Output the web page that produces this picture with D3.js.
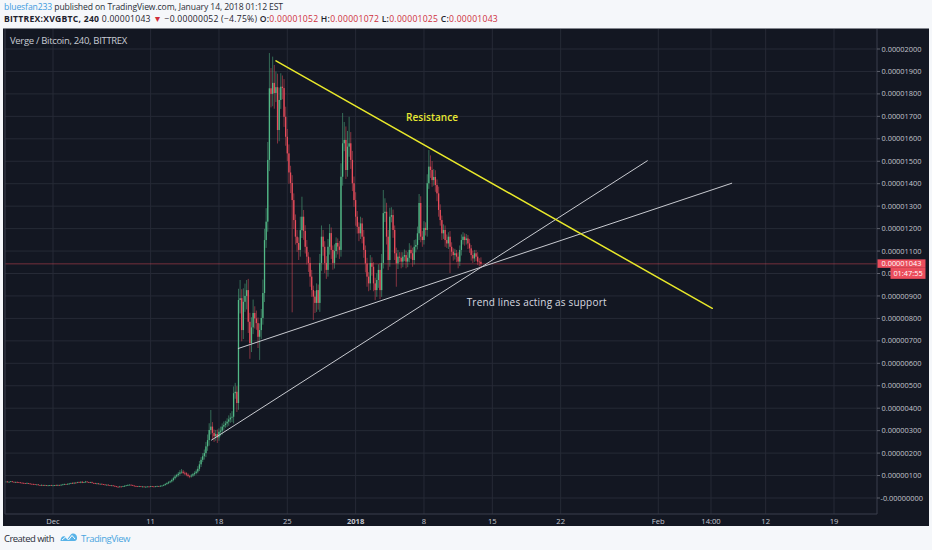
<!DOCTYPE html>
<html><head><meta charset="utf-8">
<script src="https://cdn.jsdelivr.net/npm/d3@7"></script>
<style>html,body{margin:0;padding:0;background:#f5f7fa;}svg{display:block;}</style>
</head><body>
<svg id="c" width="932" height="550"></svg>
<script>
// ---- DATA (prices in satoshi, 1e-8 BTC), 4h candles from 2017-11-26 00:00 UTC ----
const candleStart = Date.UTC(2017,10,26,0,0);
const candleHours = 4;
const closes = [
72,73,71,72,74,72,70,71,70,69,
68,67,66,65,66,64,63,62,61,60,
60,58,57,58,56,57,55,56,57,55,
56,57,56,58,57,59,60,62,61,63,
64,66,65,68,67,70,69,72,68,70,
73,71,69,70,67,66,64,65,62,63,
61,60,58,59,57,55,56,54,52,50,
49,51,50,52,54,56,58,59,57,55,
53,52,51,52,50,51,49,50,51,50,
52,51,50,52,53,52,54,55,58,62,
66,70,74,80,88,96,102,108,114,117,
112,110,104,98,96,100,106,111,118,130,
150,170,186,200,230,258,303,318,290,275,
285,270,295,300,318,325,332,340,350,358,
362,467,473,423,882,890,748,874,900,926,
785,690,760,824,800,779,718,748,802,913,
1149,1231,1506,1825,1800,1849,1804,1830,1639,1773,
1832,1826,1698,1609,1535,1450,1403,1327,1238,1164,
1136,1105,1193,1253,1190,1119,1075,1047,986,926,
897,869,926,869,1047,1164,1119,1047,1016,1119,
1180,1105,1047,1100,1136,1120,1105,1431,1580,1595,
1461,1565,1580,1506,1402,1327,1253,1208,1179,1223,
1164,1105,1045,986,956,1047,1030,956,926,971,
1016,926,1047,1269,1275,1164,1060,1253,1260,1194,
1090,1045,1075,1070,1053,1075,1082,1053,1070,1105,
1090,1060,1119,1127,1179,1314,1164,1149,1203,1194,
1402,1476,1461,1416,1430,1394,1357,1283,1238,1179,
1194,1149,1134,1164,1119,1097,1082,1090,1075,1053,
1105,1149,1164,1149,1156,1134,1112,1082,1067,1090,
1075,1053,1052,1043];
const wickUp = [
2,1,3,2,1,2,1,2,3,1,
2,1,2,1,3,1,2,1,2,1,
1,2,1,3,1,2,1,2,1,2,
2,1,3,2,1,2,3,2,1,2,
3,2,4,2,3,2,3,2,4,2,
3,2,1,2,3,1,2,1,2,1,
2,1,2,1,2,1,2,1,2,1,
2,3,1,2,3,2,3,2,1,2,
1,2,1,2,1,2,1,2,1,2,
2,1,2,1,2,1,3,2,3,4,
4,5,4,6,7,8,6,8,10,12,
8,6,5,6,5,7,6,8,9,12,
15,12,14,16,20,25,30,74,20,15,
18,20,15,18,14,16,12,15,18,20,
25,30,40,25,50,81,40,60,55,45,
50,40,45,60,30,35,25,30,40,60,
50,60,80,157,90,117,80,70,60,55,
60,50,40,45,35,40,30,35,30,25,
30,25,60,89,30,25,30,20,25,30,
20,25,30,25,40,50,30,25,30,35,
40,25,20,30,25,20,25,60,135,80,
60,70,118,50,40,30,35,25,20,30,
25,30,20,25,20,35,25,20,25,30,
25,30,40,103,60,40,30,40,35,25,
20,25,30,20,25,20,25,20,25,30,
20,25,30,25,30,40,30,25,30,25,
40,74,50,40,35,30,25,30,25,20,
25,20,25,20,25,20,15,20,15,20,
20,25,20,15,20,15,20,15,20,15,
15,20,15,20];
const wickDown = [
1,2,1,2,1,2,1,1,2,1,
1,2,1,2,1,2,1,2,1,2,
2,1,2,1,2,1,2,1,2,1,
1,2,1,2,1,2,1,2,1,2,
2,1,2,3,2,1,2,3,2,1,
2,1,2,1,2,1,2,3,2,1,
1,2,1,2,1,2,1,2,1,2,
2,1,2,1,2,1,2,1,2,1,
1,2,1,2,1,2,1,2,1,2,
1,2,1,2,1,2,1,2,2,3,
3,4,4,5,6,6,5,7,8,6,
6,8,7,6,8,5,6,7,6,8,
10,12,10,15,18,20,25,20,30,25,
20,25,15,20,18,15,12,15,18,15,
20,30,25,40,30,60,50,40,45,60,
50,70,40,30,45,30,50,103,40,30,
40,35,45,50,60,55,70,40,60,50,
40,50,45,40,35,50,45,500,40,35,
40,45,30,35,40,30,35,40,45,30,
104,45,40,30,40,35,40,45,40,30,
35,40,30,25,30,35,40,30,40,35,
40,30,45,40,35,30,40,30,35,25,
30,35,40,45,35,30,40,35,45,30,
35,40,30,25,40,35,45,30,25,35,
30,104,25,20,30,25,20,30,25,20,
25,30,20,25,20,30,25,30,20,25,
30,25,35,30,25,30,35,30,25,30,
25,30,20,25,117,20,25,20,25,30,
20,25,20,25,20,25,20,25,20,15,
20,15,20,18];
const lastPrice = 1043;
const yTicks = [0,100,200,300,400,500,600,700,800,900,1000,1100,1200,1300,1400,1500,1600,1700,1800,1900,2000];
const yTickLabels = ["-0.00000000","0.00000100","0.00000200","0.00000300","0.00000400","0.00000500","0.00000600","0.00000700","0.00000800","0.00000900","0.00001000","0.00001100","0.00001200","0.00001300","0.00001400","0.00001500","0.00001600","0.00001700","0.00001800","0.00001900","0.00002000"];
const xTickDates = [Date.UTC(2017,11,1),Date.UTC(2017,11,11),Date.UTC(2017,11,18),Date.UTC(2017,11,25),Date.UTC(2018,0,1),Date.UTC(2018,0,8),Date.UTC(2018,0,15),Date.UTC(2018,0,22),Date.UTC(2018,1,1),Date.UTC(2018,1,6,9,36),Date.UTC(2018,1,12),Date.UTC(2018,1,19)];
const xTickLabels = ["Dec","11","18","25","2018","8","15","22","Feb","14:00","12","19"];
const xTickBold = ["2018"];
// drawn trend lines: [startDate, startPrice, endDate, endPrice]
const resistanceLine = [Date.UTC(2017,11,23,20,14),1947,Date.UTC(2018,1,6,12,45),845];
const supportLineA = [Date.UTC(2017,11,17,5,40),258,Date.UTC(2018,0,30,21,0),1502];
const supportLineB = [Date.UTC(2017,11,19,23,30),666,Date.UTC(2018,1,8,12,30),1402];
const notes = [
  {text:"Resistance", date:Date.UTC(2018,0,6,3,50), price:1697, width:52, color:"#e8e832", weight:600},
  {text:"Trend lines acting as support", date:Date.UTC(2018,0,12,9,0), price:872, width:140, color:"#d8dae0", weight:500}
];

// ---- DRAW ----
const svg = d3.select('#c');
const P = {l:5, r:877, t:29, b:514};
const x = d3.scaleTime().domain([new Date(Date.UTC(2017,11,1)), new Date(Date.UTC(2018,1,19))]).range([53,834]);
const y = d3.scaleLinear().domain([0,2000]).range([498,49]);
const FONT = "'Open Sans', 'Noto Sans', sans-serif";
const UP = "#53b987", DOWN = "#eb4d5c";

svg.append('rect').attr('width',932).attr('height',550).attr('fill','#f5f7fa');
svg.append('rect').attr('x',3).attr('y',28.5).attr('width',926).attr('height',497.5).attr('fill','#131722');

// fit a text to a target width by adjusting letter spacing
function fitText(t, w){
  const n = t.node().getComputedTextLength();
  const chars = t.text().length;
  t.attr('letter-spacing', ((w - n) / chars).toFixed(3));
}

// header line 1
{
  const t = svg.append('text').attr('x',4).attr('y',9.5).attr('font-family',FONT).attr('font-size',8.6);
  t.append('tspan').attr('fill','#3d9be0').text('bluesfan233');
  t.append('tspan').attr('fill','#2a2e39').text(' published on TradingView.com, January 14, 2018 01:12 EST');
  fitText(t, 279);
}
// header line 2
{
  const t = svg.append('text').attr('x',4).attr('y',21.8).attr('font-family',FONT).attr('font-size',8.6);
  const dark = '#1e222d', red = '#cf2f3a';
  const parts = [
    ['BITTREX:XVGBTC, 240',dark,700],[' 0.00001043 ',dark,400],['▼',red,400],[' −0.00000052 (−4.75%) ',dark,400],
    ['O:',dark,600],['0.00001052',red,400],[' H:',dark,600],['0.00001072',red,400],
    [' L:',dark,600],['0.00001025',red,400],[' C:',dark,600],['0.00001043',red,400]
  ];
  parts.forEach(p=>t.append('tspan').attr('fill',p[1]).attr('font-weight',p[2]).text(p[0]));
  fitText(t, 494);
}

// grid
const grid = svg.append('g');
grid.selectAll('line.h').data(yTicks).join('line')
  .attr('x1',P.l).attr('x2',P.r).attr('y1',d=>y(d)).attr('y2',d=>y(d))
  .attr('stroke','#262a36').attr('stroke-width',1);
grid.selectAll('line.v').data(xTickDates).join('line').attr('class','v')
  .attr('x1',d=>x(new Date(d))).attr('x2',d=>x(new Date(d))).attr('y1',P.t).attr('y2',P.b)
  .attr('stroke','#262a36').attr('stroke-width',1);

// panel border
svg.append('path').attr('d',`M${P.l},${P.t}V${P.b}H${P.r}V${P.t}`).attr('fill','none').attr('stroke','#3a3f4c').attr('stroke-width',1);

// legend title
{
  const t = svg.append('text').attr('x',10).attr('y',43.5).attr('font-family',FONT).attr('font-size',9.5).attr('fill','#c8cbd3').text('Verge / Bitcoin, 240, BITTREX');
  fitText(t, 117);
}

// clip
svg.append('clipPath').attr('id','clip').append('rect').attr('x',P.l+0.5).attr('y',P.t).attr('width',P.r-P.l-1).attr('height',P.b-P.t);
const plot = svg.append('g').attr('clip-path','url(#clip)');

// last price line
plot.append('line').attr('x1',P.l).attr('x2',P.r).attr('y1',y(lastPrice)).attr('y2',y(lastPrice))
  .attr('stroke','#eb4d5c').attr('stroke-opacity',0.45).attr('stroke-width',1);

// candles
const candles = closes.map((c,i)=>{
  const o = i>0 ? closes[i-1] : c;
  return {t:new Date(candleStart + i*candleHours*3600e3), o, c,
          h:Math.max(o,c)+wickUp[i], l:Math.min(o,c)-wickDown[i]};
});
const cg = plot.append('g');
cg.selectAll('line.w').data(candles).join('line')
  .attr('x1',d=>x(d.t)).attr('x2',d=>x(d.t)).attr('y1',d=>y(d.h)).attr('y2',d=>y(d.l))
  .attr('stroke',d=>d.c>=d.o?UP:DOWN).attr('stroke-width',0.7).attr('stroke-opacity',0.75);
cg.selectAll('rect').data(candles).join('rect')
  .attr('x',d=>x(d.t)-0.65).attr('width',1.3)
  .attr('y',d=>y(Math.max(d.o,d.c)))
  .attr('height',d=>Math.max(0.7, y(Math.min(d.o,d.c))-y(Math.max(d.o,d.c))))
  .attr('fill',d=>d.c>=d.o?UP:DOWN);

// trend lines
function tl(a, color, w){
  plot.append('line').attr('x1',x(new Date(a[0]))).attr('y1',y(a[1])).attr('x2',x(new Date(a[2]))).attr('y2',y(a[3]))
    .attr('stroke',color).attr('stroke-width',w).attr('stroke-linecap','round');
}
tl(supportLineA,'#c9cbd1',1);
tl(supportLineB,'#c9cbd1',1);
tl(resistanceLine,'#e8e82a',1.5);

notes.forEach(n=>{
  const t = svg.append('text').attr('x',x(new Date(n.date))).attr('y',y(n.price)+3.6)
    .attr('font-family',FONT).attr('font-size',10).attr('font-weight',n.weight).attr('fill',n.color).text(n.text);
  fitText(t, n.width);
});

// y axis
const ya = svg.append('g');
ya.selectAll('line').data(yTicks).join('line').attr('x1',P.r).attr('x2',P.r+3).attr('y1',d=>y(d)).attr('y2',d=>y(d)).attr('stroke','#5d606b');
ya.selectAll('text').data(yTicks).join('text')
  .attr('x',d=>d===0?880.5:881.5).attr('y',d=>y(d)).attr('dy','0.35em')
  .attr('font-family',FONT).attr('font-size',7.4).attr('fill','#c3c6ce')
  .text((d,i)=>yTickLabels[i]);

// last price labels
svg.append('rect').attr('x',877.5).attr('y',y(lastPrice)-4.5).attr('width',48).attr('height',8.5).attr('fill','#eb4d5c');
svg.append('text').attr('x',881.5).attr('y',y(lastPrice)).attr('dy','0.35em').attr('font-family',FONT).attr('font-size',7.4).attr('fill','#ffffff').text(d3.format('.8f')(lastPrice*1e-8));
svg.append('rect').attr('x',890.5).attr('y',y(lastPrice)+4).attr('width',35).attr('height',11).attr('fill','#eb4d5c');
svg.append('text').attr('x',908).attr('y',y(lastPrice)+9.6).attr('dy','0.35em').attr('text-anchor','middle').attr('font-family',FONT).attr('font-size',7.4).attr('fill','#ffffff').text('01:47:55');

// x axis labels
svg.append('g').selectAll('text').data(xTickDates).join('text')
  .attr('x',d=>x(new Date(d))).attr('y',523.5).attr('text-anchor','middle')
  .attr('font-family',FONT).attr('font-size',7.6).attr('fill','#c3c6ce')
  .attr('font-weight',(d,i)=>xTickBold.includes(xTickLabels[i])?700:400)
  .text((d,i)=>xTickLabels[i]);

// footer
{
  const t = svg.append('text').attr('x',4).attr('y',541.5).attr('font-family',FONT).attr('font-size',9.5).attr('fill','#2a2e39').text('Created with');
  fitText(t, 50);
  svg.append('path').attr('d','M60.5,541 C60.5,537 63,535.5 65,536.5 L67.5,539 L70.5,535 C72.5,532.5 76.5,533.5 77,537 C77.5,539.5 76,541 74.5,541 Z')
    .attr('fill','#58b3e8');
  svg.append('path').attr('d','M62,540 L65.5,537 L68.5,540 L72,535.5 L75,539').attr('fill','none').attr('stroke','#ffffff').attr('stroke-width',1);
  const t2 = svg.append('text').attr('x',81).attr('y',541.5).attr('font-family',FONT).attr('font-size',9.5).attr('fill','#4aa6e0').text('TradingView');
  fitText(t2, 49);
}
</script>
</body></html>
